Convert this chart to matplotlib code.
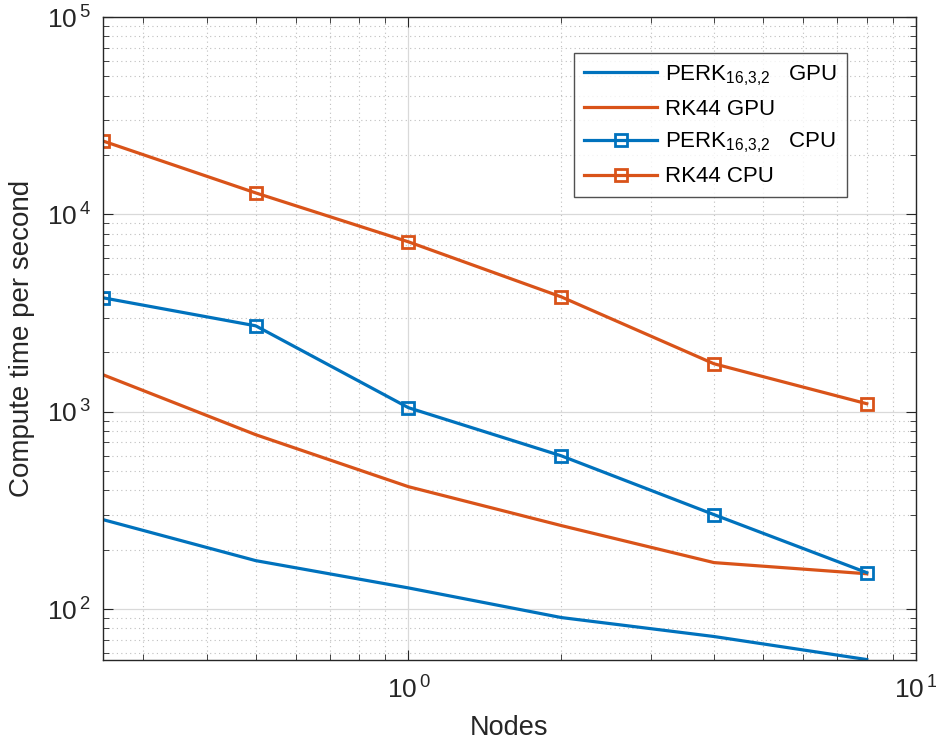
import matplotlib
matplotlib.use("Agg")
import matplotlib.pyplot as plt
from matplotlib.ticker import LogLocator, NullFormatter, FuncFormatter
import numpy as np

plt.rcParams["font.family"] = ["Liberation Sans", "DejaVu Sans"]
plt.rcParams["mathtext.fontset"] = "custom"
plt.rcParams["mathtext.rm"] = "Liberation Sans"
plt.rcParams["mathtext.it"] = "Liberation Sans"

# Data
nodes = [0.25, 0.5, 1, 2, 4, 8]
perk_gpu = [284, 176, 128, 90.6, 72.6, 55.5]
rk44_gpu = [1540, 765, 417, 265, 172, 151]
perk_cpu = [3780, 2725, 1048, 598, 301, 153]
rk44_cpu = [23550, 12850, 7260, 3820, 1750, 1098]

blue = "#0072BD"
orange = "#D95319"
dark = "#262626"

fig = plt.figure(figsize=(9.36, 7.42), dpi=100)
ax = fig.add_axes([0.110, 0.1105, 0.8686, 0.8665])

ax.plot(nodes, perk_gpu, color=blue, lw=2.3, label=r"PERK$_{16{,}3{,}2}$   GPU")
ax.plot(nodes, rk44_gpu, color=orange, lw=2.3, label="RK44 GPU")
ax.plot(nodes, perk_cpu, color=blue, lw=2.3, marker="s", ms=9, mfc="none",
        mew=2, label=r"PERK$_{16{,}3{,}2}$   CPU")
ax.plot(nodes, rk44_cpu, color=orange, lw=2.3, marker="s", ms=9, mfc="none",
        mew=2, label="RK44 CPU")

ax.set_xscale("log")
ax.set_yscale("log")
ax.set_xlim(0.25, 10)
ax.set_ylim(55.2, 1e5)

pow_fmt = FuncFormatter(lambda v, p: r"$10^{\,%d}$" % round(np.log10(v)))
ax.xaxis.set_major_locator(LogLocator(base=10))
ax.xaxis.set_minor_locator(LogLocator(base=10, subs=range(2, 10)))
ax.xaxis.set_major_formatter(pow_fmt)
ax.yaxis.set_major_formatter(pow_fmt)
ax.xaxis.set_minor_formatter(NullFormatter())
ax.yaxis.set_minor_formatter(NullFormatter())

ax.grid(True, which="major", color="#d9d9d9", lw=0.9, ls="-")
ax.grid(True, which="minor", color="#bfbfbf", lw=0.8, ls=(0, (1, 3)))
ax.set_axisbelow(True)

for s in ax.spines.values():
    s.set_color(dark)
    s.set_linewidth(1.0)
ax.tick_params(which="both", direction="in", top=True, right=True,
               colors=dark, labelsize=19)
ax.tick_params(which="major", length=7)
ax.tick_params(which="minor", length=4)
ax.tick_params(axis="x", pad=12)
ax.tick_params(axis="y", pad=9)

ax.set_xlabel("Nodes", fontsize=19.5, color=dark, labelpad=8)
ax.set_ylabel("Compute time per second", fontsize=20, color=dark, labelpad=8)

leg = ax.legend(loc="upper right", bbox_to_anchor=(0.915, 0.944), fontsize=16,
                frameon=True, fancybox=False, edgecolor=dark, handlelength=3.3,
                borderpad=0.45, labelspacing=0.5, handletextpad=0.35,
                borderaxespad=0)
leg.get_frame().set_linewidth(1.0)

fig.savefig("out.png", dpi=100)
